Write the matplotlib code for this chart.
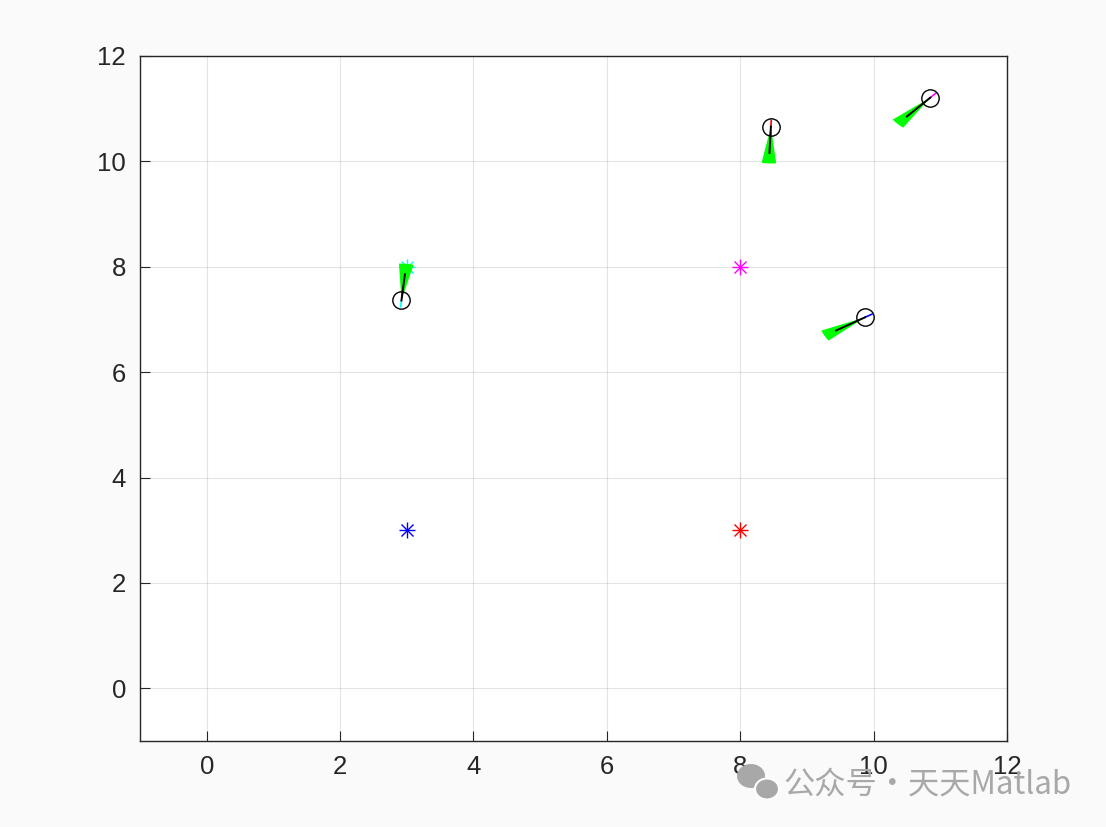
import numpy as np
import matplotlib
matplotlib.use("Agg")
import matplotlib.pyplot as plt
from matplotlib.patches import Polygon, Ellipse

# Targets (asterisks)
target_x = [3, 8, 8, 3]
target_y = [3, 3, 8, 8]
target_colors = ['blue', 'red', 'magenta', 'cyan']

# Robots: position, heading (deg), trail colour
robot_x = [2.92, 8.46, 10.85, 9.87]
robot_y = [7.36, 10.66, 11.21, 7.04]
robot_heading = [84, 267.5, 225.5, 210]
robot_colors = ['cyan', 'red', 'magenta', 'blue']

# Sensor cone and heading line
cone_length = 0.70
cone_half_angle = 9.0
heading_length = 0.5
trail_length = 0.12

xticks = [0, 2, 4, 6, 8, 10, 12]
yticks = [0, 2, 4, 6, 8, 10, 12]

plt.rcParams['font.family'] = ['Liberation Sans', 'DejaVu Sans']

fig = plt.figure(figsize=(11.06, 8.27), dpi=100, facecolor='#fafafa')
ax = fig.add_axes([140/1106, 1-741/827, (1007-140)/1106, (741-56)/827])
ax.set_facecolor('white')

ax.set_xlim(-1, 12)
ax.set_ylim(-1, 12)
ax.set_xticks(xticks)
ax.set_yticks(yticks)
ax.grid(True, color='#262626', alpha=0.12, linewidth=0.8)
ax.set_axisbelow(True)
for s in ax.spines.values():
    s.set_color('#262626')
    s.set_linewidth(1.0)
ax.tick_params(direction='in', length=7, width=0.8, colors='#262626',
               labelsize=18.5, top=False, right=False, pad=10)

# targets: MATLAB-style asterisk = '+' plus 'x'
for tx, ty, c in zip(target_x, target_y, target_colors):
    ax.plot(tx, ty, marker='+', color=c, markersize=12, mew=1.0, zorder=3)
    ax.plot(tx, ty, marker='x', color=c, markersize=8.5, mew=1.0, zorder=3)

# robots
for rx, ry, h, c in zip(robot_x, robot_y, robot_heading, robot_colors):
    th = np.deg2rad(h)
    angs = np.deg2rad(np.linspace(h - cone_half_angle, h + cone_half_angle, 20))
    pts = [(rx, ry)] + [(rx + cone_length*np.cos(a), ry + cone_length*np.sin(a)) for a in angs]
    ax.add_patch(Polygon(pts, closed=True, facecolor='#00ff00', edgecolor='none', zorder=4))
    ax.plot([rx, rx - trail_length*np.cos(th)], [ry, ry - trail_length*np.sin(th)],
            color=c, lw=1.2, zorder=5)
    ax.plot([rx, rx + heading_length*np.cos(th)], [ry, ry + heading_length*np.sin(th)],
            color='black', lw=1.4, zorder=5)
    ax.plot(rx, ry, marker='o', markersize=12.5, mfc='none', mec='black', mew=1.0, zorder=6)

# watermark (icon + text)
W, H = 1106, 827
fig.patches.append(Ellipse((751/W, 1-776/H), 28/W, 24/H, transform=fig.transFigure,
                           facecolor='#a8a8a8', edgecolor='none', zorder=9))
fig.patches.append(Ellipse((767/W, 1-789/H), 24/W, 21/H, transform=fig.transFigure,
                           facecolor='#a8a8a8', edgecolor='white', lw=1.5, zorder=9))
fig.text(783/W, 1-784/H, '公众号·天天Matlab', color='#a8a8a8', fontsize=22.5,
         family=['Noto Sans CJK SC', 'DejaVu Sans'], va='center', ha='left', zorder=10)

fig.savefig('out.png', dpi=100, facecolor=fig.get_facecolor())
